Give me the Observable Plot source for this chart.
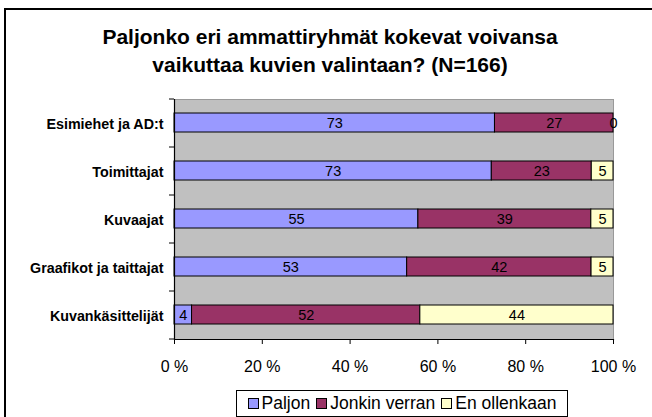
<!DOCTYPE html>
<html>
<head>
<meta charset="utf-8">
<script src="https://cdn.jsdelivr.net/npm/d3@7"></script>
<script src="https://cdn.jsdelivr.net/npm/@observablehq/plot@0.6"></script>
<style>
  html, body { margin: 0; padding: 0; background: #fff; width: 652px; height: 417px; overflow: hidden; font-family: "Liberation Sans", Arial, sans-serif; }
  #wrap { position: relative; width: 652px; height: 417px; overflow: hidden; }
  #border { position: absolute; left: 4px; top: 8px; width: 800px; height: 600px; border: 2px solid #000; box-sizing: border-box; }
  #title { position: absolute; left: 0; width: 660px; top: 23px; text-align: center; font-weight: bold; font-size: 21px; line-height: 28px; color: #000; }
  #chart { position: absolute; left: 0; top: 80px; }
  #legend { position: absolute; left: 236px; top: 390px; width: 332px; height: 27px; border: 1px solid #000; box-sizing: border-box; display: flex; align-items: center; justify-content: center; gap: 6px; font-size: 17.5px; background: #fff; }
  .item { display: flex; align-items: center; gap: 3px; }
  .sw { width: 11px; height: 11px; border: 1px solid #000; box-sizing: border-box; }
</style>
</head>
<body>
<div id="wrap">
  <div id="border"></div>
  <div id="title">Paljonko eri ammattiryhmät kokevat voivansa<br>vaikuttaa kuvien valintaan? (N=166)</div>
  <div id="chart"></div>
  <div id="legend"></div>
</div>
<script>
const categories = ["Esimiehet ja AD:t", "Toimittajat", "Kuvaajat", "Graafikot ja taittajat", "Kuvankäsittelijät"];
const seriesNames = ["Paljon", "Jonkin verran", "En ollenkaan"];
const paljon = [73, 73, 55, 53, 4];
const jonkinVerran = [27, 23, 39, 42, 52];
const enOllenkaan = [0, 5, 5, 5, 44];
const seriesColors = ["#9999FF", "#993366", "#FFFFCC"];
const xTicks = [0, 0.2, 0.4, 0.6, 0.8, 1];

const seriesValues = [paljon, jonkinVerran, enOllenkaan];
const data = [];
categories.forEach((c, i) => {
  seriesNames.forEach((s, j) => data.push({cat: c, series: s, value: seriesValues[j][i]}));
});

const W = 652, H = 300, mL = 174, mR = 39, mT = 19, mB = 41;
const step = (H - mT - mB) / categories.length;

const stackOpts = {x: "value", y: "cat", z: "series", order: seriesNames, offset: "normalize"};

const chart = Plot.plot({
  width: W, height: H,
  marginLeft: mL, marginRight: mR, marginTop: mT, marginBottom: mB,
  style: {fontFamily: "'Liberation Sans', Arial, sans-serif", background: "transparent", color: "#000"},
  x: {domain: [0, 1]},
  y: {domain: categories, paddingInner: 0.6, paddingOuter: 0.3},
  color: {domain: seriesNames, range: seriesColors},
  marks: [
    Plot.frame({fill: "#C0C0C0", stroke: "#999999"}),
    Plot.barX(data, Plot.stackX({...stackOpts, fill: "series", stroke: "#000", strokeWidth: 1})),
    Plot.text(data, Plot.stackX({...stackOpts, text: d => String(d.value), fontSize: 14.5, fill: "#000"})),
    Plot.ruleX([0], {stroke: "#000", strokeWidth: 1.2}),
    Plot.frame({anchor: "bottom", stroke: "#000", strokeWidth: 1.2}),
    Plot.axisX(xTicks, {tickSize: 5, tickPadding: 16, fontSize: 16, tickFormat: d => `${Math.round(d * 100)} %`, label: null, stroke: "#000"}),
    Plot.axisY({tickSize: 0, tickPadding: 11, fontSize: 14.3, fontWeight: "bold", label: null, dy: 1}),
    Plot.axisY(categories, {tickSize: 5, dy: -step / 2, tickFormat: () => "", label: null, stroke: "#000"}),
    Plot.axisY([categories[categories.length - 1]], {tickSize: 5, dy: step / 2, tickFormat: () => "", label: null, stroke: "#000"})
  ]
});
document.getElementById("chart").appendChild(chart);

const legend = document.getElementById("legend");
seriesNames.forEach((s, i) => {
  const it = document.createElement("div");
  it.className = "item";
  const sw = document.createElement("div");
  sw.className = "sw";
  sw.style.background = seriesColors[i];
  const t = document.createElement("span");
  t.textContent = s;
  it.appendChild(sw); it.appendChild(t);
  legend.appendChild(it);
});
</script>
</body>
</html>
